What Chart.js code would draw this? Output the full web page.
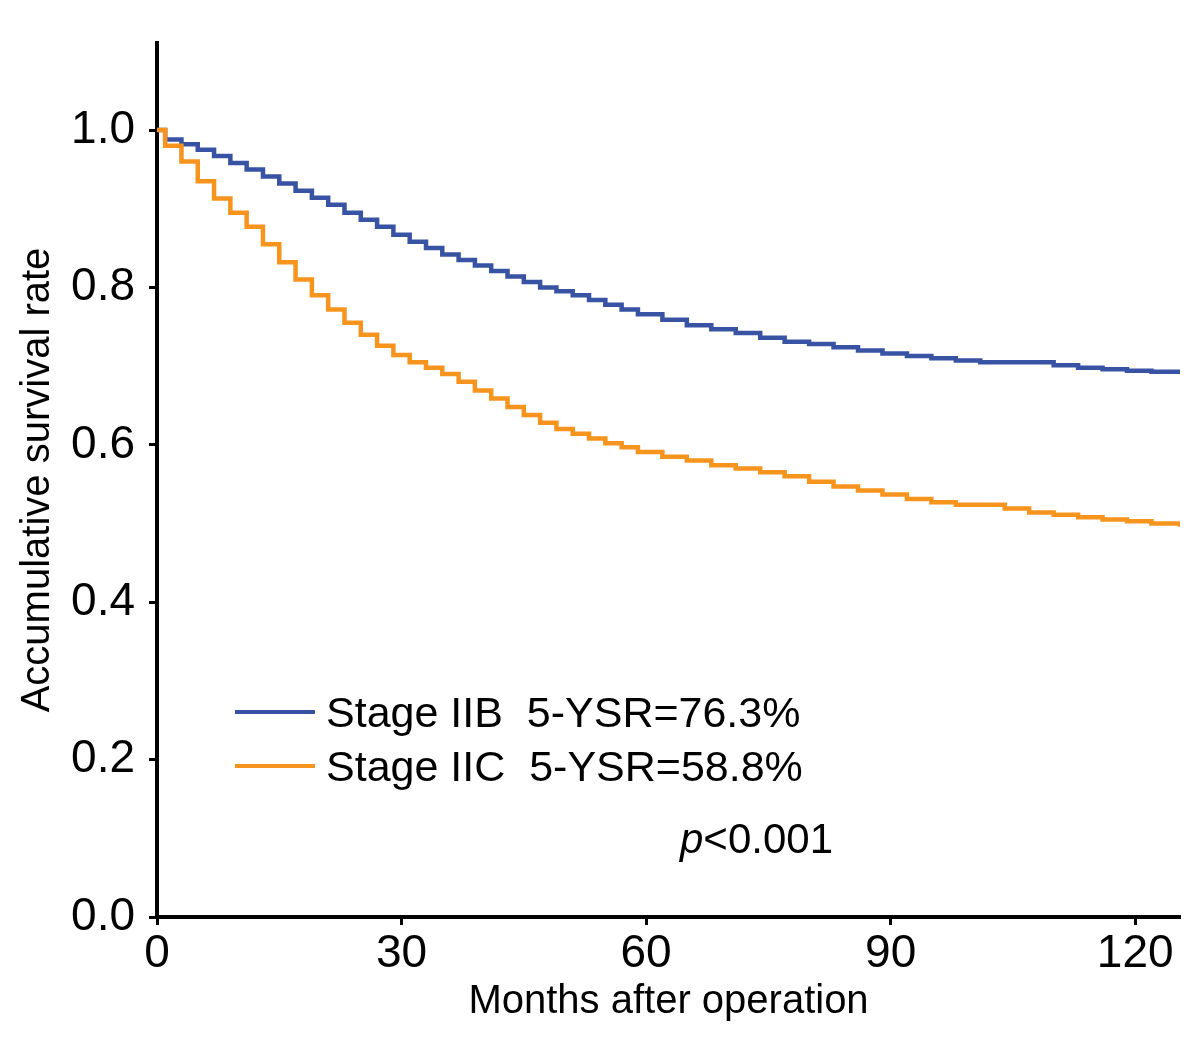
<!DOCTYPE html>
<html>
<head>
<meta charset="utf-8">
<script src="https://cdn.jsdelivr.net/npm/chart.js@4/dist/chart.umd.min.js"></script>
<style>
  html, body { margin: 0; padding: 0; background: #ffffff; }
  #wrap { width: 1200px; height: 1039px; position: relative; }
</style>
</head>
<body>
<div id="wrap"><canvas id="c" width="1200" height="1039"></canvas></div>
<script>
// ---- Data ----
const seriesNames = ['Stage IIB  5-YSR=76.3%', 'Stage IIC  5-YSR=58.8%'];
const seriesColors = ['#3953a4', '#f7941e'];

const iibMonths = [0, 1, 3, 5, 7, 9, 11, 13, 15, 17, 19, 21, 23, 25, 27, 29, 31, 33, 35, 37, 39, 41, 43, 45, 47, 49, 51, 53, 55, 57, 59, 62, 65, 68, 71, 74, 77, 80, 83, 86, 89, 92, 95, 98, 101, 104, 107, 110, 113, 116, 119, 122, 125.5];
const iibSurv = [1.000, 0.988, 0.982, 0.975, 0.967, 0.958, 0.950, 0.941, 0.932, 0.923, 0.914, 0.905, 0.895, 0.886, 0.877, 0.867, 0.858, 0.850, 0.842, 0.835, 0.828, 0.821, 0.814, 0.807, 0.800, 0.795, 0.790, 0.784, 0.778, 0.772, 0.766, 0.759, 0.752, 0.747, 0.742, 0.736, 0.731, 0.728, 0.724, 0.720, 0.716, 0.713, 0.710, 0.707, 0.705, 0.705, 0.705, 0.701, 0.698, 0.696, 0.694, 0.693, 0.691];

const iicMonths = [0, 1, 3, 5, 7, 9, 11, 13, 15, 17, 19, 21, 23, 25, 27, 29, 31, 33, 35, 37, 39, 41, 43, 45, 47, 49, 51, 53, 55, 57, 59, 62, 65, 68, 71, 74, 77, 80, 83, 86, 89, 92, 95, 98, 101, 104, 107, 110, 113, 116, 119, 122, 125.5];
const iicSurv = [1.000, 0.980, 0.960, 0.935, 0.913, 0.895, 0.877, 0.855, 0.832, 0.810, 0.790, 0.772, 0.755, 0.740, 0.726, 0.714, 0.705, 0.698, 0.690, 0.680, 0.669, 0.659, 0.648, 0.638, 0.628, 0.620, 0.614, 0.608, 0.602, 0.597, 0.591, 0.585, 0.580, 0.574, 0.570, 0.565, 0.560, 0.553, 0.547, 0.542, 0.537, 0.531, 0.527, 0.524, 0.524, 0.519, 0.514, 0.511, 0.508, 0.505, 0.503, 0.500, 0.496];

const xTicks = [0, 30, 60, 90, 120];
const yTicks = [0.0, 0.2, 0.4, 0.6, 0.8, 1.0];
const xTitle = 'Months after operation';
const yTitle = 'Accumulative survival rate';
const pText = '<0.001';

// ---- Build datasets ----
function pts(xs, ys) { return xs.map((x, i) => ({ x: x, y: ys[i] })); }

const FONT = '"Liberation Sans", Arial, Helvetica, sans-serif';

const annotationPlugin = {
  id: 'kmAnnotations',
  afterDraw(chart) {
    const ctx = chart.ctx;
    ctx.save();
    // legend
    const rows = [712, 766];
    chart.data.datasets.forEach((ds, i) => {
      const y = rows[i];
      ctx.strokeStyle = ds.borderColor;
      ctx.lineWidth = 4;
      ctx.beginPath();
      ctx.moveTo(235, y);
      ctx.lineTo(315, y);
      ctx.stroke();
      ctx.fillStyle = '#000';
      ctx.font = '43px ' + FONT;
      ctx.textBaseline = 'middle';
      ctx.textAlign = 'left';
      ctx.fillText(ds.label, 326, y + 3);
    });
    // p value
    ctx.fillStyle = '#000';
    ctx.textBaseline = 'middle';
    ctx.font = 'italic 42px ' + FONT;
    ctx.fillText('p', 680, 841);
    const w = ctx.measureText('p').width;
    ctx.font = '42px ' + FONT;
    ctx.fillText(pText, 680 + w, 841);
    ctx.restore();
  }
};

new Chart(document.getElementById('c'), {
  type: 'line',
  data: {
    datasets: [
      { label: seriesNames[0], data: pts(iibMonths, iibSurv), borderColor: seriesColors[0], backgroundColor: seriesColors[0], borderWidth: 4.5, stepped: true, pointRadius: 0, fill: false, order: 1 },
      { label: seriesNames[1], data: pts(iicMonths, iicSurv), borderColor: seriesColors[1], backgroundColor: seriesColors[1], borderWidth: 4.5, stepped: true, pointRadius: 0, fill: false, order: 0 }
    ]
  },
  options: {
    responsive: false,
    animation: false,
    devicePixelRatio: 1,
    layout: { padding: { top: 43, right: 20, left: 0, bottom: 0 } },
    plugins: { legend: { display: false }, tooltip: { enabled: false }, title: { display: false } },
    scales: {
      x: {
        type: 'linear',
        min: 0,
        max: 125.5,
        afterBuildTicks: (s) => { s.ticks = xTicks.map(v => ({ value: v })); },
        afterFit: (s) => { s.height = 122; },
        border: { display: true, color: '#000', width: 4 },
        grid: { display: true, drawOnChartArea: false, drawTicks: true, tickLength: 8, tickWidth: 3, tickColor: '#000' },
        ticks: { color: '#000', font: { family: FONT, size: 46 }, padding: 2, maxRotation: 0, autoSkip: false, callback: (v) => String(v) },
        title: { display: true, text: xTitle, color: '#000', font: { family: FONT, size: 40 }, padding: { top: 0, bottom: 13 } }
      },
      y: {
        type: 'linear',
        min: 0,
        max: 1.1106,
        afterBuildTicks: (s) => { s.ticks = yTicks.map(v => ({ value: v })); },
        afterFit: (s) => { s.width = 157; },
        border: { display: true, color: '#000', width: 4 },
        grid: { display: true, drawOnChartArea: false, drawTicks: true, tickLength: 8, tickWidth: 3, tickColor: '#000' },
        ticks: { color: '#000', font: { family: FONT, size: 46 }, padding: 14, callback: (v) => Number(v).toFixed(1) },
        title: { display: true, text: yTitle, color: '#000', font: { family: FONT, size: 40 }, padding: { top: 14, bottom: 0 } }
      }
    }
  },
  plugins: [annotationPlugin]
});
</script>
</body>
</html>
